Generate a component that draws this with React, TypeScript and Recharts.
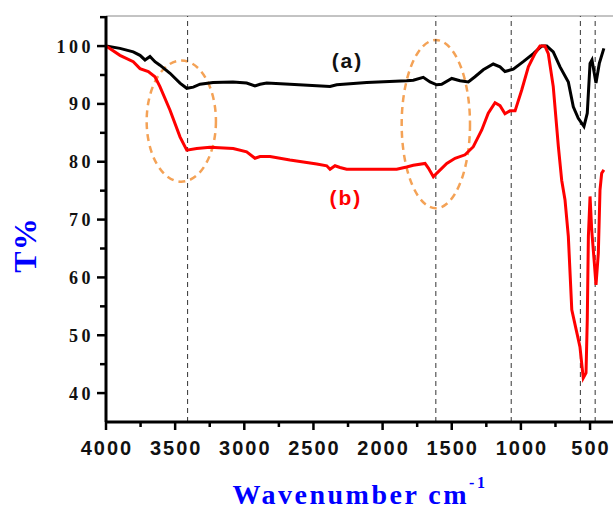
import React from 'react';
import { LineChart, Line, XAxis, YAxis, ReferenceLine, ReferenceArea, ReferenceDot } from 'recharts';

// Curve (a) - black
const wavenumberA = [4000, 3899, 3803, 3754, 3718, 3682, 3646, 3610, 3537, 3465, 3416, 3369, 3320, 3226, 3082, 2983, 2923, 2886, 2838, 2670, 2380, 2332, 2115, 1826, 1778, 1706, 1657, 1609, 1573, 1500, 1440, 1380, 1332, 1272, 1200, 1151, 1115, 1055, 983, 910, 850, 813, 766, 717, 657, 621, 585, 544, 520, 500, 486, 457, 433, 400];
const transmittanceA = [100.0, 99.6, 99.0, 98.4, 97.6, 98.2, 97.3, 96.7, 95.3, 93.6, 92.7, 92.9, 93.4, 93.7, 93.8, 93.6, 93.1, 93.4, 93.6, 93.4, 93.0, 93.3, 93.7, 94.0, 94.1, 94.6, 93.8, 93.3, 93.4, 94.4, 94.0, 93.8, 94.7, 95.9, 96.9, 96.4, 95.6, 96.0, 97.3, 98.7, 100.0, 100.0, 99.0, 96.4, 93.8, 89.5, 87.5, 86.1, 88.4, 97.0, 97.6, 93.6, 97.0, 99.6];

// Curve (b) - red
const wavenumberB = [4000, 3899, 3803, 3754, 3694, 3646, 3610, 3537, 3465, 3416, 3344, 3248, 3080, 2983, 2923, 2886, 2814, 2670, 2476, 2404, 2380, 2344, 2308, 2260, 1898, 1826, 1778, 1693, 1669, 1633, 1609, 1536, 1476, 1404, 1344, 1283, 1236, 1187, 1151, 1115, 1079, 1042, 994, 946, 898, 862, 826, 802, 766, 729, 705, 681, 657, 632, 573, 549, 529, 520, 512, 500, 488, 469, 457, 440, 428, 416, 400];
const transmittanceB = [100.0, 98.4, 97.3, 96.1, 95.6, 94.7, 93.0, 88.9, 84.3, 82.0, 82.3, 82.5, 82.3, 81.7, 80.6, 80.9, 80.9, 80.3, 79.6, 79.3, 78.7, 79.3, 79.0, 78.7, 78.7, 79.1, 79.4, 79.7, 78.9, 77.4, 78.0, 79.7, 80.6, 81.2, 82.6, 85.5, 88.4, 90.2, 89.7, 88.3, 88.8, 88.8, 92.4, 96.4, 98.7, 100.0, 100.0, 98.7, 93.0, 82.6, 76.8, 73.4, 67.1, 54.4, 48.0, 42.6, 43.5, 52.7, 67.1, 74.0, 68.2, 62.5, 58.7, 64.2, 75.1, 78.0, 78.6];

// Axis ticks
const xTicks = [4000, 3750, 3500, 3250, 3000, 2750, 2500, 2250, 2000, 1750, 1500, 1250, 1000, 750, 500];
const yTicks = [40, 45, 50, 55, 60, 65, 70, 75, 80, 85, 90, 95, 100, 105];

// Marked band positions (dashed lines)
const bandLines = [3410, 1615, 1070, 570, 463];

const seriesA = wavenumberA.map((w, i) => ({ wn: w, t: transmittanceA[i] }));
const seriesB = wavenumberB.map((w, i) => ({ wn: w, t: transmittanceB[i] }));

const XTick = (props: any) => {
  const { x, y, payload } = props;
  const major = payload.value % 500 === 0;
  return (
    <g>
      <line x1={x} x2={x} y1={y} y2={y + (major ? 8 : 5)} stroke="#000" strokeWidth={2.5} />
      {major && (
        <text x={x + 1} y={y + 33} textAnchor="middle" fill="#111"
          style={{ fontFamily: '"Liberation Sans", Arial, sans-serif', fontWeight: 'bold', fontSize: 20, letterSpacing: 2 }}>
          {payload.value}
        </text>
      )}
    </g>
  );
};

const YTick = (props: any) => {
  const { x, y, payload } = props;
  const major = payload.value % 10 === 0;
  return (
    <g>
      <line x1={x} x2={x - (major ? 9 : 6)} y1={y} y2={y} stroke="#000" strokeWidth={2.5} />
      {major && (
        <text x={x - 12} y={y + 6.5} textAnchor="end" fill="#111"
          style={{ fontFamily: '"Liberation Serif", "Times New Roman", serif', fontWeight: 'bold', fontSize: 18, letterSpacing: 3.5 }}>
          {payload.value}
        </text>
      )}
    </g>
  );
};

const EllipseShape = (props: any) => {
  const { x, y, width, height } = props;
  return (
    <ellipse cx={x + width / 2} cy={y + height / 2} rx={Math.abs(width) / 2} ry={Math.abs(height) / 2}
      fill="none" stroke="#F4A256" strokeWidth={2.5} strokeDasharray="7 5" />
  );
};

const makeTextShape = (label: string, color: string) => (props: any) => {
  const { cx, cy } = props;
  return (
    <text x={cx} y={cy} textAnchor="middle" dominantBaseline="central" fill={color}
      style={{ fontFamily: '"Liberation Sans", Arial, sans-serif', fontWeight: 'bold', fontSize: 21, letterSpacing: 2 }}>
      {label}
    </text>
  );
};

const XLabel = () => (
  <text x={360} y={504} textAnchor="middle" fill="#0000FF"
    style={{ fontFamily: '"Liberation Serif", "Times New Roman", serif', fontWeight: 'bold', fontSize: 28, letterSpacing: 2.5 }}>
    Wavenumber cm
    <tspan dy={-16} style={{ fontSize: 16 }}>-1</tspan>
  </text>
);

const YLabel = () => (
  <text x={25} y={245} textAnchor="middle" dominantBaseline="central" fill="#0000FF" transform="rotate(-90, 25, 245)"
    style={{ fontFamily: '"Liberation Serif", "Times New Roman", serif', fontWeight: 'bold', fontSize: 32, letterSpacing: 1 }}>
    T%
  </text>
);

export default function App() {
  return (
    <div style={{ position: 'absolute', left: 0, top: 0, width: 613, height: 512, background: '#fff' }}>
      <LineChart width={613} height={512} margin={{ top: 16, right: 0, bottom: 0, left: 0 }}>
        <XAxis dataKey="wn" type="number" domain={[334, 4000]} reversed allowDataOverflow
          ticks={xTicks} interval={0} tickSize={0} tickMargin={0} tickLine={false}
          tick={<XTick />} height={90} axisLine={{ stroke: '#000', strokeWidth: 3 }}
          label={<XLabel />} />
        <YAxis type="number" domain={[35, 105.2]} allowDataOverflow ticks={yTicks} interval={0}
          tickSize={0} tickMargin={0} tickLine={false} tick={<YTick />} width={106}
          axisLine={{ stroke: '#000', strokeWidth: 3 }} label={<YLabel />} />
        <ReferenceLine y={105.2} stroke="#888" strokeWidth={1} />
        {bandLines.map((b) => (
          <ReferenceLine key={b} x={b} stroke="#333" strokeWidth={1} strokeDasharray="5 4" />
        ))}
        <ReferenceArea x1={3706} x2={3205} y1={76.55} y2={97.5} shape={EllipseShape} ifOverflow="visible" />
        <ReferenceArea x1={1862} x2={1368} y1={71.96} y2={101.04} shape={EllipseShape} ifOverflow="visible" />
        <Line data={seriesA} dataKey="t" stroke="#000" strokeWidth={3} dot={false} isAnimationActive={false} type="linear" />
        <Line data={seriesB} dataKey="t" stroke="#FF0000" strokeWidth={3} dot={false} isAnimationActive={false} type="linear" />
        <ReferenceDot x={2254} y={97.58} r={0} shape={makeTextShape('(a)', '#111')} ifOverflow="visible" />
        <ReferenceDot x={2265} y={73.74} r={0} shape={makeTextShape('(b)', '#FF0000')} ifOverflow="visible" />
      </LineChart>
    </div>
  );
}
